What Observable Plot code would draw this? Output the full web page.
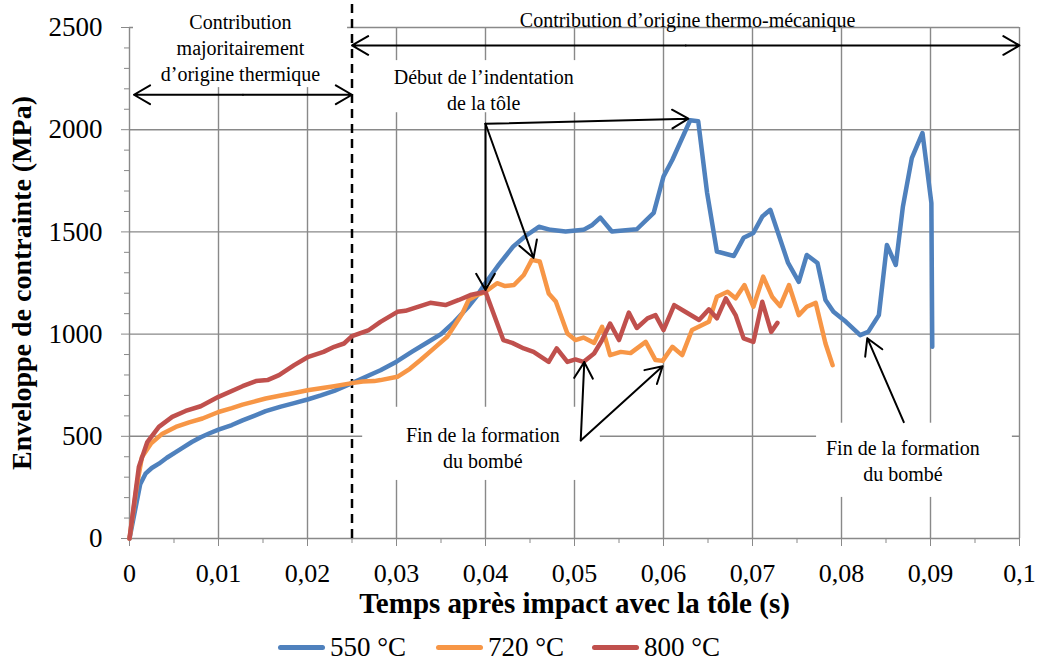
<!DOCTYPE html>
<html><head><meta charset="utf-8">
<script src="https://cdn.jsdelivr.net/npm/d3@7"></script>
<script src="https://cdn.jsdelivr.net/npm/@observablehq/plot@0.6"></script>
<style>
body{margin:0;background:#fff;font-family:'Liberation Serif';}
#chart{position:relative;width:1038px;height:664px;overflow:hidden;}
#legend{position:absolute;top:630px;left:0;width:1038px;height:34px;}
.item{position:absolute;top:0;height:34px;display:flex;align-items:center;font-size:27px;font-family:'Liberation Serif';color:#000;white-space:nowrap;}
.sw{width:47px;height:5px;border-radius:3px;margin-right:5px;}
</style></head><body><div id="chart"><div id="legend"></div></div>
<script>
// ---- data ----
const seriesNames = ["550 °C", "720 °C", "800 °C"];
const seriesColors = ["#4F81BD", "#F79646", "#C0504D"];

const t550 = [0, 0.0012, 0.0018, 0.0025, 0.0033, 0.0042, 0.0052, 0.006, 0.007, 0.008, 0.009, 0.01, 0.0115, 0.0127, 0.014, 0.0153, 0.017, 0.0185, 0.02, 0.0215, 0.023, 0.025, 0.027, 0.0282, 0.03, 0.0318, 0.0335, 0.035, 0.0365, 0.038, 0.039, 0.04, 0.0415, 0.0431, 0.0445, 0.046, 0.0473, 0.049, 0.051, 0.052, 0.0529, 0.0542, 0.057, 0.0589, 0.06, 0.061, 0.063, 0.0639, 0.0649, 0.066, 0.0679, 0.069, 0.0701, 0.0711, 0.072, 0.074, 0.0752, 0.0761, 0.0773, 0.0782, 0.0791, 0.0805, 0.0821, 0.083, 0.0842, 0.0851, 0.0861, 0.0869, 0.0879, 0.0891, 0.0901, 0.0902];
const v550 = [0, 265, 317, 345, 366, 395, 423, 445, 472, 495, 515, 533, 555, 578, 600, 623, 645, 662, 680, 700, 722, 760, 800, 823, 865, 915, 960, 1000, 1060, 1130, 1185, 1250, 1340, 1428, 1480, 1525, 1510, 1502, 1510, 1534, 1570, 1502, 1513, 1593, 1771, 1853, 2046, 2041, 1691, 1404, 1382, 1471, 1495, 1575, 1608, 1348, 1256, 1387, 1348, 1167, 1109, 1060, 995, 1011, 1093, 1436, 1338, 1624, 1861, 1984, 1641, 938];

const t720 = [0, 0.0008, 0.0014, 0.0024, 0.0037, 0.0052, 0.0067, 0.0082, 0.01, 0.0115, 0.0127, 0.014, 0.0153, 0.017, 0.0185, 0.02, 0.0215, 0.023, 0.025, 0.0262, 0.0275, 0.0282, 0.0301, 0.0315, 0.0327, 0.0342, 0.0357, 0.0374, 0.0381, 0.039, 0.040, 0.0413, 0.0422, 0.0432, 0.0443, 0.0452, 0.0461, 0.0471, 0.0479, 0.0492, 0.0501, 0.051, 0.0522, 0.0531, 0.054, 0.0552, 0.0563, 0.058, 0.0591, 0.0599, 0.061, 0.0621, 0.0632, 0.0651, 0.066, 0.0672, 0.0681, 0.0691, 0.0701, 0.0712, 0.0722, 0.0731, 0.0741, 0.0752, 0.0761, 0.0771, 0.0782, 0.079];
const v720 = [0, 252, 399, 464, 513, 546, 568, 587, 619, 638, 655, 670, 685, 700, 712, 725, 735, 745, 760, 768, 770, 775, 791, 830, 873, 930, 987, 1101, 1167, 1190, 1207, 1249, 1235, 1240, 1289, 1363, 1355, 1199, 1159, 1003, 971, 983, 957, 1036, 897, 913, 907, 962, 873, 869, 938, 897, 1020, 1060, 1183, 1207, 1175, 1240, 1134, 1281, 1183, 1137, 1240, 1093, 1134, 1153, 954, 848];

const t800 = [0, 0.00105, 0.002, 0.0033, 0.0048, 0.0063, 0.008, 0.01, 0.0127, 0.0142, 0.0155, 0.0168, 0.0185, 0.0201, 0.0218, 0.023, 0.0241, 0.025, 0.0269, 0.0282, 0.0301, 0.031, 0.0338, 0.0355, 0.037, 0.0383, 0.04, 0.042, 0.043, 0.0443, 0.0454, 0.0471, 0.048, 0.0492, 0.0501, 0.051, 0.0522, 0.0531, 0.054, 0.055, 0.0561, 0.057, 0.0582, 0.0591, 0.06, 0.0612, 0.0623, 0.064, 0.0651, 0.066, 0.067, 0.0681, 0.069, 0.0701, 0.0711, 0.0721, 0.0728];
const v800 = [0, 350, 472, 546, 595, 624, 647, 693, 745, 770, 775, 799, 848, 889, 913, 938, 954, 990, 1020, 1060, 1109, 1114, 1153, 1142, 1167, 1191, 1207, 971, 957, 930, 913, 864, 930, 864, 876, 864, 905, 971, 1052, 971, 1105, 1030, 1077, 1093, 1020, 1142, 1113, 1069, 1121, 1077, 1175, 1093, 979, 962, 1158, 1011, 1055];

const xTicks = [0, 0.01, 0.02, 0.03, 0.04, 0.05, 0.06, 0.07, 0.08, 0.09, 0.1];
const xMinor = [0.005, 0.015, 0.025, 0.035, 0.045, 0.055, 0.065, 0.075, 0.085, 0.095];
const yTicks = [0, 500, 1000, 1500, 2000, 2500];
const yMinor = [100, 200, 300, 400, 600, 700, 800, 900, 1100, 1200, 1300, 1400, 1600, 1700, 1800, 1900, 2100, 2200, 2300, 2400];

const xTitle = "Temps après impact avec la tôle (s)";
const yTitle = "Enveloppe de contrainte (MPa)";
const phaseLine = [0.025];

// annotation texts
const notes = [
  {t: 0.01247, v: 2407, text: "Contribution\nmajoritairement\nd’origine thermique"},
  {t: 0.0627, v: 2544, text: "Contribution d’origine thermo-mécanique"},
  {t: 0.0398, v: 2199, text: "Début de l’indentation\nde la tôle"},
  {t: 0.0397, v: 451, text: "Fin de la formation\ndu bombé"},
  {t: 0.0869, v: 385, text: "Fin de la formation\ndu bombé"}
];
// white boxes behind annotation texts
const boxes = [
  {t1: 0.00045, t2: 0.0245, v1: 2206, v2: 2620},
  {t1: 0.0262, t2: 0.0525, v1: 2083, v2: 2338},
  {t1: 0.0262, t2: 0.0529, v1: 284, v2: 642},
  {t1: 0.0772, t2: 0.0992, v1: 201, v2: 564}
];
// single arrows
const arrows = [
  {t1: 0.04, v1: 2029, t2: 0.0628, v2: 2054},
  {t1: 0.04, v1: 2029, t2: 0.04, v2: 1216},
  {t1: 0.04, v1: 2029, t2: 0.0454, v2: 1373},
  {t1: 0.0507, v1: 480, t2: 0.0511, v2: 863},
  {t1: 0.0507, v1: 480, t2: 0.0599, v2: 843},
  {t1: 0.087, v1: 569, t2: 0.0829, v2: 980}
];
// double-headed arrows (span)
const spans = [
  {t1: 0.0005, t2: 0.025, v: 2171},
  {t1: 0.025, t2: 0.1, v: 2412}
];

// ---- build ----
const mk = (ts, vs) => ts.map((t, i) => ({t, v: vs[i]}));
const s550 = mk(t550, v550), s720 = mk(t720, v720), s800 = mk(t800, v800);
const spanArrows = spans.flatMap(d => {
  const m = (d.t1 + d.t2) / 2;
  return [{t1: m, t2: d.t1, v: d.v}, {t1: m, t2: d.t2, v: d.v}];
});
const gray = "#898989";
const serif = "Liberation Serif";
const fmtX = d => d === 0 ? "0" : String(d).replace(".", ",");
const fmtY = d => String(d);

const chart = Plot.plot({
  width: 1038,
  height: 628,
  marginLeft: 129,
  marginRight: 19,
  marginTop: 27,
  marginBottom: 90,
  style: {fontFamily: serif, background: "#fff", color: "#000"},
  x: {domain: [0, 0.1]},
  y: {domain: [0, 2500]},
  marks: [
    Plot.gridY(yTicks.slice(1), {stroke: gray, strokeOpacity: 1, strokeWidth: 1.4}),
    Plot.gridX(xTicks.slice(1), {stroke: gray, strokeOpacity: 1, strokeWidth: 1.4}),
    Plot.rect(boxes, {x1: "t1", x2: "t2", y1: "v1", y2: "v2", fill: "#fff"}),
    Plot.ruleX([0], {stroke: gray, strokeWidth: 1.4}),
    Plot.ruleY([0], {stroke: gray, strokeWidth: 1.4}),
    Plot.axisY(yTicks, {tickSize: 8, tickPadding: 19, fontSize: 27, fontFamily: serif, stroke: gray, fill: "#000", tickFormat: fmtY, label: null}),
    Plot.axisY(yMinor, {tickSize: 5, tickFormat: () => "", stroke: gray, label: null}),
    Plot.axisX(xTicks, {tickSize: 8, tickPadding: 17, fontSize: 26, fontFamily: serif, stroke: gray, fill: "#000", tickFormat: fmtX, label: null}),
    Plot.axisX(xMinor, {tickSize: 5, tickFormat: () => "", stroke: gray, label: null}),
    Plot.ruleX(phaseLine, {y1: 0, y2: 2615, stroke: "#000", strokeWidth: 2.5, strokeDasharray: "9,6"}),
    Plot.line(s550, {x: "t", y: "v", stroke: seriesColors[0], strokeWidth: 4.5}),
    Plot.line(s720, {x: "t", y: "v", stroke: seriesColors[1], strokeWidth: 4.5}),
    Plot.line(s800, {x: "t", y: "v", stroke: seriesColors[2], strokeWidth: 4.5}),
    Plot.arrow(arrows, {x1: "t1", y1: "v1", x2: "t2", y2: "v2", stroke: "#000", strokeWidth: 2, headLength: 14, headAngle: 60}),
    Plot.arrow(spanArrows, {x1: "t1", y1: "v", x2: "t2", y2: "v", stroke: "#000", strokeWidth: 2, headLength: 14, headAngle: 60}),
    Plot.text(notes, {x: "t", y: "v", text: "text", fontSize: 20, fontFamily: serif, lineHeight: 1.3, fill: "#000"}),
    Plot.text([xTitle], {frameAnchor: "bottom", dy: 74, textAnchor: "middle", fontSize: 29, fontFamily: serif, fontWeight: "bold", fill: "#000"}),
    Plot.text([yTitle], {frameAnchor: "left", dx: -107, rotate: -90, textAnchor: "middle", fontSize: 28, fontFamily: serif, fontWeight: "bold", fill: "#000"})
  ]
});
const root = document.getElementById("chart");
root.insertBefore(chart, root.firstChild);

const legend = document.getElementById("legend");
const lefts = [278, 436, 592];
seriesNames.forEach((name, i) => {
  const it = document.createElement("div");
  it.className = "item";
  it.style.left = lefts[i] + "px";
  it.innerHTML = `<span class="sw" style="background:${seriesColors[i]}"></span><span>${name}</span>`;
  legend.appendChild(it);
});
</script>
</body></html>
